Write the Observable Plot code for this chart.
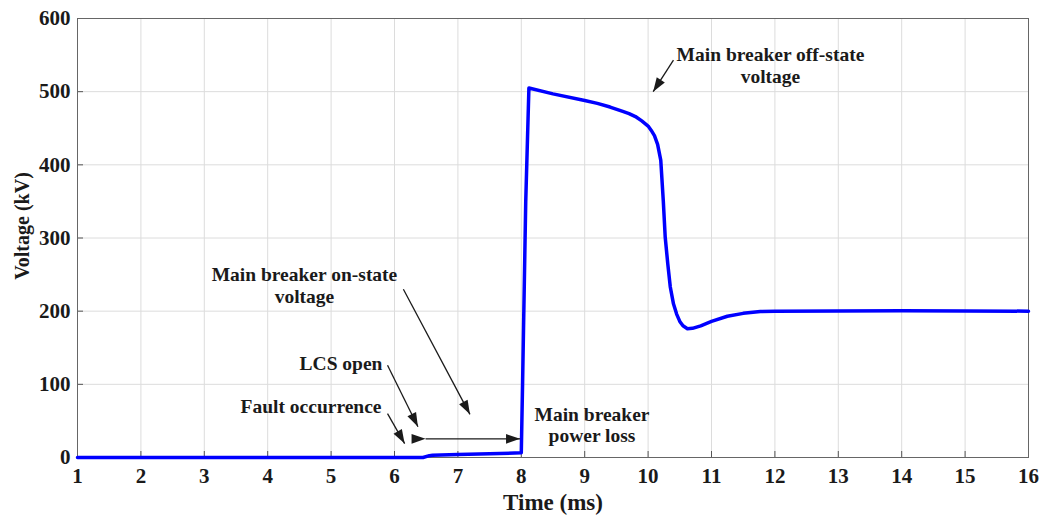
<!DOCTYPE html>
<html>
<head>
<meta charset="utf-8">
<script src="https://cdn.jsdelivr.net/npm/d3@7"></script>
<script src="https://cdn.jsdelivr.net/npm/@observablehq/plot@0.6"></script>
<style>
  html, body { margin: 0; padding: 0; background: #fff; }
  #chart { width: 1041px; height: 518px; overflow: hidden; }
</style>
</head>
<body>
<div id="chart"></div>
<script>
// ---- data ----
const timeMs = [1, 6.45, 6.55, 6.6, 7.0, 7.5, 8.0, 8.02, 8.07, 8.12, 8.5, 9.0, 9.2, 9.4, 9.6, 9.7, 9.8, 9.9, 10.0, 10.05, 10.1, 10.15, 10.2, 10.24, 10.27, 10.31, 10.35, 10.4, 10.45, 10.5, 10.55, 10.62, 10.7, 10.83, 11.0, 11.25, 11.5, 11.77, 12.0, 13.0, 14.0, 15.0, 16.0];
const voltageKV = [0, 0, 2.5, 3, 4, 5, 6.5, 100, 350, 505, 497, 488, 484, 479, 473, 470, 466, 460, 453, 447, 440, 428, 406, 350, 301, 265, 233, 210, 196, 186, 180, 176, 176.5, 180, 186, 193, 197, 199.5, 200, 200.3, 200.5, 200.3, 200];

const xTicks = [1, 2, 3, 4, 5, 6, 7, 8, 9, 10, 11, 12, 13, 14, 15, 16];
const yTicks = [0, 100, 200, 300, 400, 500, 600];

// annotation arrows (data units): start -> tip
const arrowX1 = [10.40, 6.14, 5.89, 5.89];
const arrowY1 = [543, 230, 126, 60];
const arrowX2 = [10.08, 7.19, 6.37, 6.16];
const arrowY2 = [500, 59, 42, 19];
// double-headed span arrow
const spanX1 = [6.49];
const spanX2 = [7.98];
const spanY = [25.5];

// annotation labels
const midLabels = ["Main breaker off-state\nvoltage", "Main breaker on-state\nvoltage", "Main breaker\npower loss"];
const midLabelX = [11.93, 4.58, 9.115];
const midLabelY = [512, 211.7, 20.9];
const endLabels = ["LCS open", "Fault occurrence"];
const endLabelX = [5.81, 5.795];
const endLabelY = [120, 61];

// ---- build tables ----
const series = timeMs.map((t, i) => ({t, v: voltageKV[i]}));
const arrows = arrowX1.map((x, i) => ({x1: x, y1: arrowY1[i], x2: arrowX2[i], y2: arrowY2[i]}));
const spans = spanX1.map((x, i) => ({x1: x, x2: spanX2[i], y: spanY[i]}));
const mids = midLabels.map((text, i) => ({text, x: midLabelX[i], y: midLabelY[i]}));
const ends = endLabels.map((text, i) => ({text, x: endLabelX[i], y: endLabelY[i]}));

const W = 1041, H = 518;
const mL = 77, mR = 13, mT = 18, mB = 61;
const frameW = W - mL - mR, frameH = H - mT - mB;

const chart = Plot.plot({
  width: W,
  height: H,
  marginLeft: mL,
  marginRight: mR,
  marginTop: mT,
  marginBottom: mB,
  style: {fontFamily: "'Liberation Serif', 'Times New Roman', serif", fontSize: "21px", fontWeight: "bold", background: "#fff", color: "#1a1a1a"},
  x: {domain: [1, 16]},
  y: {domain: [0, 600]},
  marks: [
    Plot.gridX(xTicks, {stroke: "#dcdcdc", strokeOpacity: 1, strokeWidth: 1}),
    Plot.gridY(yTicks, {stroke: "#dcdcdc", strokeOpacity: 1, strokeWidth: 1}),
    Plot.tickX(xTicks, {x: d => d, insetTop: frameH - 6, stroke: "#555", strokeWidth: 1}),
    Plot.tickY(yTicks, {y: d => d, insetRight: frameW - 6, stroke: "#555", strokeWidth: 1}),
    Plot.axisX(xTicks, {tickSize: 0, tickPadding: 11, label: null, fontSize: 21, fontWeight: "bold", fill: "#1a1a1a"}),
    Plot.axisY(yTicks, {tickSize: 0, tickPadding: 7, label: null, fontSize: 21, fontWeight: "bold", fill: "#1a1a1a"}),
    Plot.frame({stroke: "#666", strokeWidth: 1}),
    Plot.text(["Time (ms)"], {frameAnchor: "bottom", dy: 52, textAnchor: "middle", lineAnchor: "bottom", fontSize: 23, fontWeight: "bold", fill: "#1a1a1a"}),
    Plot.text(["Voltage (kV)"], {frameAnchor: "left", dx: -49, dy: -12, rotate: -90, textAnchor: "middle", lineAnchor: "bottom", fontSize: 20, fontWeight: "bold", fill: "#1a1a1a"}),
    Plot.line(series, {x: "t", y: "v", stroke: "#0000ff", strokeWidth: 3.5, strokeLinejoin: "round", strokeLinecap: "round"}),
    Plot.link(arrows, {x1: "x1", y1: "y1", x2: "x2", y2: "y2", stroke: "#1a1a1a", strokeWidth: 1.3, markerEnd: "arrow"}),
    Plot.link(spans, {x1: "x1", y1: "y", x2: "x2", y2: "y", stroke: "#1a1a1a", strokeWidth: 1.3, markerStart: "arrow", markerEnd: "arrow"}),
    Plot.text(mids, {x: "x", y: "y", text: "text", textAnchor: "middle", lineAnchor: "bottom", lineHeight: 1.1, fontSize: 19.5, fontWeight: "bold", fill: "#1a1a1a"}),
    Plot.text(ends, {x: "x", y: "y", text: "text", textAnchor: "end", lineAnchor: "bottom", fontSize: 19.5, fontWeight: "bold", fill: "#1a1a1a"})
  ]
});

// filled triangular arrowheads
chart.querySelectorAll("marker").forEach(m => {
  const color = m.getAttribute("stroke") || "#1a1a1a";
  m.setAttribute("viewBox", "-16 -7 18 14");
  m.setAttribute("markerUnits", "userSpaceOnUse");
  m.setAttribute("markerWidth", "18");
  m.setAttribute("markerHeight", "14");
  m.setAttribute("refX", "0");
  m.setAttribute("refY", "0");
  m.setAttribute("fill", color);
  m.setAttribute("stroke", "none");
  const p = m.querySelector("path");
  if (p) p.setAttribute("d", "M-14,-4.8L0,0L-14,4.8Z");
});

document.getElementById("chart").appendChild(chart);
</script>
</body>
</html>
